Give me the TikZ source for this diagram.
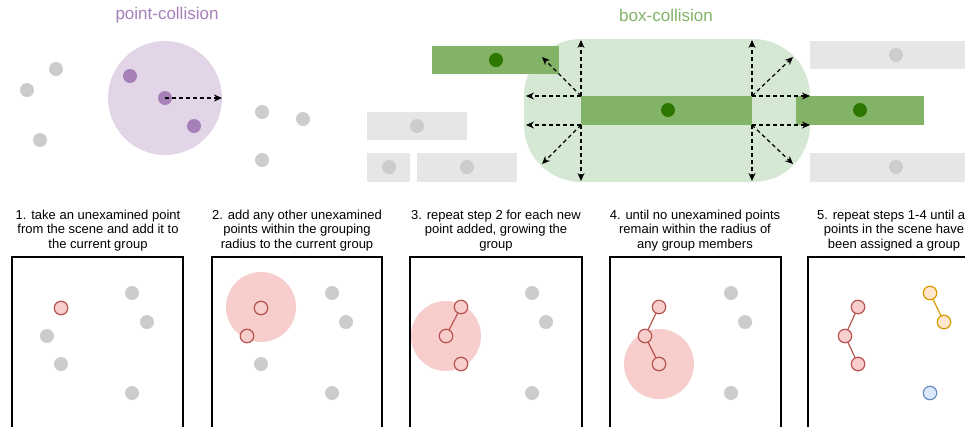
\documentclass[tikz,border=0pt]{standalone}
\usepackage{fontspec}
\setmainfont{Liberation Sans}
\usetikzlibrary{arrows.meta}
\definecolor{grayfill}{HTML}{CCCCCC}
\definecolor{boxgray}{HTML}{E6E6E6}
\definecolor{purpfill}{HTML}{E1D5E7}
\definecolor{purpdot}{HTML}{A680B8}
\definecolor{greenbox}{HTML}{82B366}
\definecolor{greenlight}{HTML}{D5E8D4}
\definecolor{greendark}{HTML}{2D7600}
\definecolor{redfill}{HTML}{F8CECC}
\definecolor{redline}{HTML}{B85450}
\definecolor{orfill}{HTML}{FFE6CC}
\definecolor{orline}{HTML}{D79B00}
\definecolor{blfill}{HTML}{DAE8FC}
\definecolor{blline}{HTML}{6C8EBF}
\tikzset{
  dotbase/.style={circle, inner sep=0pt, outer sep=0pt, minimum size=14pt},
  gdot/.style={dotbase, fill=grayfill},
  pdot/.style={dotbase, fill=purpdot},
  ddot/.style={dotbase, fill=greendark},
  ptbase/.style={circle, inner sep=0pt, outer sep=0pt, minimum size=13.5pt, line width=1.2pt},
  rpt/.style={ptbase, draw=redline, fill=redfill},
  opt/.style={ptbase, draw=orline, fill=orfill},
  bpt/.style={ptbase, draw=blline, fill=blfill},
  rlink/.style={draw=redline, line width=1.2pt},
  olink/.style={draw=orline, line width=1.2pt},
  darr/.style={dash pattern=on 4pt off 3pt, line width=1.2pt, -{Stealth[length=8pt,width=7pt]}},
  title/.style={font=\fontsize{17}{20}\selectfont},
  caption/.style={font=\fontsize{13}{14.5}\selectfont, align=center, text=black},
  frame/.style={draw=black, line width=1.5pt},
  radius disk/.style={fill=redfill}
}
\begin{document}
\begin{tikzpicture}[x=1pt,y=-1pt]
\clip (0,0) rectangle (965,426);
\fill[white] (0,0) rectangle (965,426);

% titles
\node[title, text=purpdot] (t1) at (167,15) {point-collision};
\node[title, text=greenbox] (t2) at (666,15) {box-collision};

% ---------- point collision ----------
\fill[purpfill] (165,98) circle[radius=57pt];
\node[gdot] (g1) at (56,69) {};
\node[gdot] (g2) at (27,90) {};
\node[gdot] (g3) at (40,140) {};
\node[gdot] (g4) at (262,112) {};
\node[gdot] (g5) at (303,119) {};
\node[gdot] (g6) at (262,160) {};
\node[pdot] (pa) at (130,76) {};
\node[pdot] (pb) at (165,98) {};
\node[pdot] (pc) at (194,126) {};
\coordinate (pe) at (222,98);
\draw[darr] (pb.center) -- (pe);

% ---------- box collision ----------
\fill[greenlight, rounded corners=57pt] (524,39) rectangle (810,182);
\fill[boxgray] (367,112) rectangle (467,140);
\fill[boxgray] (367,153) rectangle (410,182);
\fill[boxgray] (417,153) rectangle (517,182);
\fill[boxgray] (810,41) rectangle (975,69);
\fill[boxgray] (810,153) rectangle (975,182);
\node[gdot] (gb1) at (417,126) {};
\node[gdot] (gb2) at (389,167) {};
\node[gdot] (gb3) at (467,167) {};
\node[gdot] (gb4) at (896,55) {};
\node[gdot] (gb5) at (896,167) {};
\fill[greenbox] (432,46) rectangle (559,74);
\fill[greenbox] (581,96) rectangle (752,125);
\fill[greenbox] (796,96) rectangle (924,125);
\node[ddot] (d1) at (496,60) {};
\node[ddot] (d2) at (668,110) {};
\node[ddot] (d3) at (860,110) {};

\coordinate (tl) at (581,96);
\coordinate (bl) at (581,125);
\coordinate (tr) at (752,96);
\coordinate (br) at (752,125);
\coordinate (e1) at (581,40);
\coordinate (e2) at (526,96);
\coordinate (e3) at (542,57);
\coordinate (e4) at (526,125);
\coordinate (e5) at (542,164);
\coordinate (e6) at (581,181);
\coordinate (e7) at (752,40);
\coordinate (e8) at (793,57);
\coordinate (e9) at (810,96);
\coordinate (e10) at (810,125);
\coordinate (e11) at (793,164);
\coordinate (e12) at (752,181);
\draw[darr] (tl) -- (e1);
\draw[darr] (tl) -- (e2);
\draw[darr] (tl) -- (e3);
\draw[darr] (bl) -- (e4);
\draw[darr] (bl) -- (e5);
\draw[darr] (bl) -- (e6);
\draw[darr] (tr) -- (e7);
\draw[darr] (tr) -- (e8);
\draw[darr] (tr) -- (e9);
\draw[darr] (br) -- (e10);
\draw[darr] (br) -- (e11);
\draw[darr] (br) -- (e12);

% ---------- captions ----------
\node[caption] (c1) at (98,230.5) {1. take an unexamined point\\from the scene and add it to\\the current group};
\node[caption] (c2) at (297,230.5) {2. add any other unexamined\\points within the grouping\\radius to the current group};
\node[caption] (c3) at (496,230.5) {3. repeat step 2 for each new\\point added, growing the\\group};
\node[caption] (c4) at (695,230.5) {4. until no unexamined points\\remain within the radius of\\any group members};
\node[caption] (c5) at (894,230.5) {5. repeat steps 1-4 until all\\points in the scene have\\been assigned a group};

% ---------- panel 1 ----------
\draw[frame] (12,257) rectangle (183,445);
\node[rpt] (a1) at (61,308) {};
\node[gdot] (q11) at (132,293) {};
\node[gdot] (q12) at (147,322) {};
\node[gdot] (q13) at (47,336) {};
\node[gdot] (q14) at (61,364) {};
\node[gdot] (q15) at (132,393) {};

% ---------- panel 2 ----------
\draw[frame] (212,257) rectangle (382,445);
\fill[radius disk] (261,307) circle[radius=35pt];
\node[rpt] (a2) at (261,308) {};
\node[rpt] (b2) at (247,336) {};
\node[gdot] (q21) at (332,293) {};
\node[gdot] (q22) at (346,322) {};
\node[gdot] (q24) at (261,364) {};
\node[gdot] (q25) at (332,393) {};

% ---------- panel 3 ----------
\draw[frame] (410,257) rectangle (582,445);
\fill[radius disk] (446,336) circle[radius=35pt];
\node[rpt] (a3) at (461,307) {};
\node[rpt] (b3) at (446,336) {};
\node[rpt] (c3p) at (461,364) {};
\draw[rlink] (a3) -- (b3);
\node[gdot] (q31) at (532,293) {};
\node[gdot] (q32) at (546,322) {};
\node[gdot] (q35) at (532,393) {};

% ---------- panel 4 ----------
\draw[frame] (610,257) rectangle (781,445);
\fill[radius disk] (659,364) circle[radius=35pt];
\node[rpt] (a4) at (659,307) {};
\node[rpt] (b4) at (645,336) {};
\node[rpt] (c4p) at (659,364) {};
\draw[rlink] (a4) -- (b4);
\draw[rlink] (b4) -- (c4p);
\node[gdot] (q41) at (731,293) {};
\node[gdot] (q42) at (745,322) {};
\node[gdot] (q45) at (731,393) {};

% ---------- panel 5 ----------
\draw[frame] (808,257) rectangle (980,445);
\node[rpt] (a5) at (858,307) {};
\node[rpt] (b5) at (845,336) {};
\node[rpt] (c5p) at (858,364) {};
\draw[rlink] (a5) -- (b5);
\draw[rlink] (b5) -- (c5p);
\node[opt] (o1) at (930,293) {};
\node[opt] (o2) at (944,322) {};
\draw[olink] (o1) -- (o2);
\node[bpt] (bl1) at (930,393) {};
\end{tikzpicture}
\end{document}
